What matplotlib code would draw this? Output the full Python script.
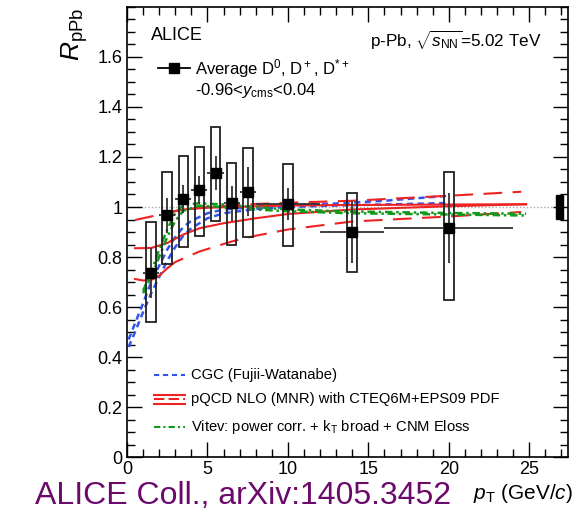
import numpy as np
import matplotlib
matplotlib.use("Agg")
import matplotlib.pyplot as plt
from matplotlib.patches import Rectangle
from matplotlib.ticker import MultipleLocator, FixedLocator

plt.rcParams['font.family'] = ['Liberation Sans', 'DejaVu Sans']
plt.rcParams['mathtext.fontset'] = 'custom'
plt.rcParams['mathtext.rm'] = 'Liberation Sans'
plt.rcParams['mathtext.it'] = 'Liberation Sans:italic'
plt.rcParams['mathtext.bf'] = 'Liberation Sans:bold'

# measured D-meson R_pPb
pt = [1.5, 2.5, 3.5, 4.5, 5.5, 6.5, 7.5, 10, 14, 20]
pt_err = [0.5, 0.5, 0.5, 0.5, 0.5, 0.5, 0.5, 2, 2, 4]
rppb = [0.737, 0.967, 1.031, 1.068, 1.137, 1.015, 1.061, 1.012, 0.901, 0.917]
stat = [0.10, 0.07, 0.055, 0.055, 0.068, 0.07, 0.097, 0.064, 0.125, 0.14]
sys_lo = [0.196, 0.196, 0.192, 0.183, 0.192, 0.167, 0.18, 0.168, 0.16, 0.289]
sys_hi = [0.204, 0.172, 0.173, 0.173, 0.182, 0.162, 0.174, 0.16, 0.154, 0.224]
norm_unc = 0.048

# CGC (Fujii-Watanabe)
cgc_pt = [0.1, 0.5, 1, 1.5, 2, 2.5, 3, 3.5, 4, 5, 6, 8, 10, 13, 16, 20]
cgc_hi = [0.47, 0.535, 0.615, 0.70, 0.765, 0.83, 0.88, 0.92, 0.945, 0.975, 0.99, 1.002, 1.008, 1.014, 1.025, 1.045]
cgc_lo = [0.44, 0.50, 0.58, 0.655, 0.72, 0.785, 0.84, 0.885, 0.915, 0.955, 0.975, 0.992, 1.0, 1.006, 1.01, 1.016]

# pQCD NLO (MNR) + EPS09
mnr_d1_pt = [0.5, 1.5, 2.5, 3.5, 5, 6.5, 8, 10, 14, 20, 24.5]
mnr_d1 = [0.948, 0.962, 0.976, 0.99, 1.0, 1.006, 1.012, 1.017, 1.025, 1.045, 1.061]
mnr_s1_pt = [2.5, 3.5, 5, 6.5, 10, 14, 20, 24.8]
mnr_s1 = [0.978, 0.99, 0.997, 1.0, 1.006, 1.008, 1.01, 1.011]
mnr_s2_pt = [0.5, 1.5, 2.5, 3.5, 4.5, 6, 8, 10, 14, 20, 24.8]
mnr_s2 = [0.835, 0.836, 0.856, 0.89, 0.915, 0.935, 0.955, 0.972, 0.99, 1.003, 1.011]
mnr_s3_pt = [0.5, 1, 1.5, 2, 2.5]
mnr_s3 = [0.712, 0.706, 0.708, 0.725, 0.755]
mnr_d2_pt = [2.5, 3, 4.5, 6.5, 8, 10, 14, 20, 24.5]
mnr_d2 = [0.755, 0.78, 0.822, 0.862, 0.885, 0.91, 0.942, 0.962, 0.98]

# Vitev
vit_pt = [1.0, 1.5, 2.0, 2.5, 3.0, 3.5, 4.5, 6, 8, 10, 14, 20, 24.8]
vit_hi = [0.665, 0.74, 0.83, 0.91, 0.975, 1.008, 1.015, 1.01, 1.0, 0.99, 0.982, 0.976, 0.973]
vit_lo = [0.655, 0.72, 0.80, 0.88, 0.945, 0.985, 1.005, 1.0, 0.99, 0.983, 0.975, 0.97, 0.966]

fig = plt.figure(figsize=(5.76, 5.17), dpi=100)
ax = fig.add_axes([0.2205, 0.116, 0.7655, 0.8705])
ax.set_xlim(0, 27.4)
ax.set_ylim(0, 1.8)

ax.axhline(1, color='#aaaaaa', lw=1, ls=(0, (1, 1.5)), zorder=1)

blue = '#3355ee'
red = '#ee2222'
green = '#11991a'
ax.plot(cgc_pt, cgc_hi, color=blue, lw=1.8, ls=(0, (2.5, 1.8)), zorder=3)
ax.plot(cgc_pt, cgc_lo, color=blue, lw=1.8, ls=(0, (2.5, 1.8)), zorder=3)
ax.plot(mnr_d1_pt, mnr_d1, color=red, lw=1.5, ls=(0, (9, 5)), zorder=3)
ax.plot(mnr_s1_pt, mnr_s1, color=red, lw=1.5, zorder=3)
ax.plot(mnr_s2_pt, mnr_s2, color=red, lw=1.5, zorder=3)
ax.plot(mnr_s3_pt, mnr_s3, color=red, lw=1.5, zorder=3)
ax.plot(mnr_d2_pt, mnr_d2, color=red, lw=1.5, ls=(0, (9, 5)), zorder=3)
ax.plot(vit_pt, vit_hi, color=green, lw=1.8, ls=(0, (3, 1.5, 1, 1.5)), zorder=3)
ax.plot(vit_pt, vit_lo, color=green, lw=1.8, ls=(0, (3, 1.5, 1, 1.5)), zorder=3)

# systematic boxes
for x, y, lo, hi in zip(pt, rppb, sys_lo, sys_hi):
    ax.add_patch(Rectangle((x - 0.3, y - lo), 0.6, lo + hi, fill=False,
                           ec='#222222', lw=1.3, zorder=4))
ax.errorbar(pt, rppb, xerr=pt_err, yerr=stat, fmt='s', color='black',
            ms=6.5, ecolor='#333333', elinewidth=1.3, capsize=0, zorder=5)
ax.add_patch(Rectangle((26.65, 1 - norm_unc), 0.45, 2 * norm_unc,
                       color='black', zorder=5))

ax.xaxis.set_major_locator(MultipleLocator(5))
ax.xaxis.set_minor_locator(MultipleLocator(1))
ax.yaxis.set_major_locator(FixedLocator([0, 0.2, 0.4, 0.6, 0.8, 1.0, 1.2, 1.4, 1.6]))
ax.yaxis.set_minor_locator(MultipleLocator(0.05))
ax.set_yticklabels(['0', '0.2', '0.4', '0.6', '0.8', '1', '1.2', '1.4', '1.6'])
ax.tick_params(which='both', direction='in', top=True, right=True,
               labelsize=13, width=1)
ax.tick_params(which='major', length=11)
ax.tick_params(which='minor', length=5.5)
ax.tick_params(axis='x', pad=3)
for s in ax.spines.values():
    s.set_linewidth(1.2)

fig.text(0.13, 0.985, r'$R_{\rm pPb}$', rotation=90, ha='center', va='top', fontsize=19)
fig.text(0.995, 0.035, r'$p_{\rm T}$ (GeV/$c$)', ha='right', va='baseline', fontsize=15)
fig.text(0.06, 0.025, 'ALICE Coll., arXiv:1405.3452', ha='left', va='baseline',
         fontsize=23, color='#6b0a6b')

ax.text(0.055, 0.955, 'ALICE', transform=ax.transAxes, fontsize=13, va='top')
ax.text(0.94, 0.952, r'p-Pb, $\sqrt{s_{\rm NN}}$=5.02 TeV', transform=ax.transAxes,
        fontsize=12.3, va='top', ha='right')

# data legend
ax.plot([1.9, 3.9], [1.555, 1.555], color='black', lw=1.3)
ax.plot([2.9], [1.555], 's', color='black', ms=6.5)
ax.text(4.2, 1.555, r'Average D$^0$, D$^+$, D$^{*+}$', fontsize=12, va='center')
ax.text(4.2, 1.465, r'-0.96<$y_{\rm cms}$<0.04', fontsize=12, va='center')

# model legend
ax.plot([1.7, 3.6], [0.328, 0.328], color=blue, lw=1.5, ls=(0, (2.5, 1.8)))
ax.plot([1.7, 3.6], [0.25, 0.25], color=red, lw=1.5)
ax.plot([1.7, 3.6], [0.232, 0.232], color=red, lw=1.5, ls=(0, (5, 2)))
ax.plot([1.7, 3.6], [0.214, 0.214], color=red, lw=1.5)
ax.plot([1.7, 3.6], [0.12, 0.12], color=green, lw=1.5, ls=(0, (3, 1.5, 1, 1.5)))
ax.text(4.0, 0.328, 'CGC (Fujii-Watanabe)', fontsize=10.6, va='center')
ax.text(4.0, 0.232, 'pQCD NLO (MNR) with CTEQ6M+EPS09 PDF', fontsize=10.6, va='center')
ax.text(4.0, 0.12, r'Vitev: power corr. + k$_{\rm T}$ broad + CNM Eloss', fontsize=10.6, va='center')

fig.savefig('out.png', dpi=100)
